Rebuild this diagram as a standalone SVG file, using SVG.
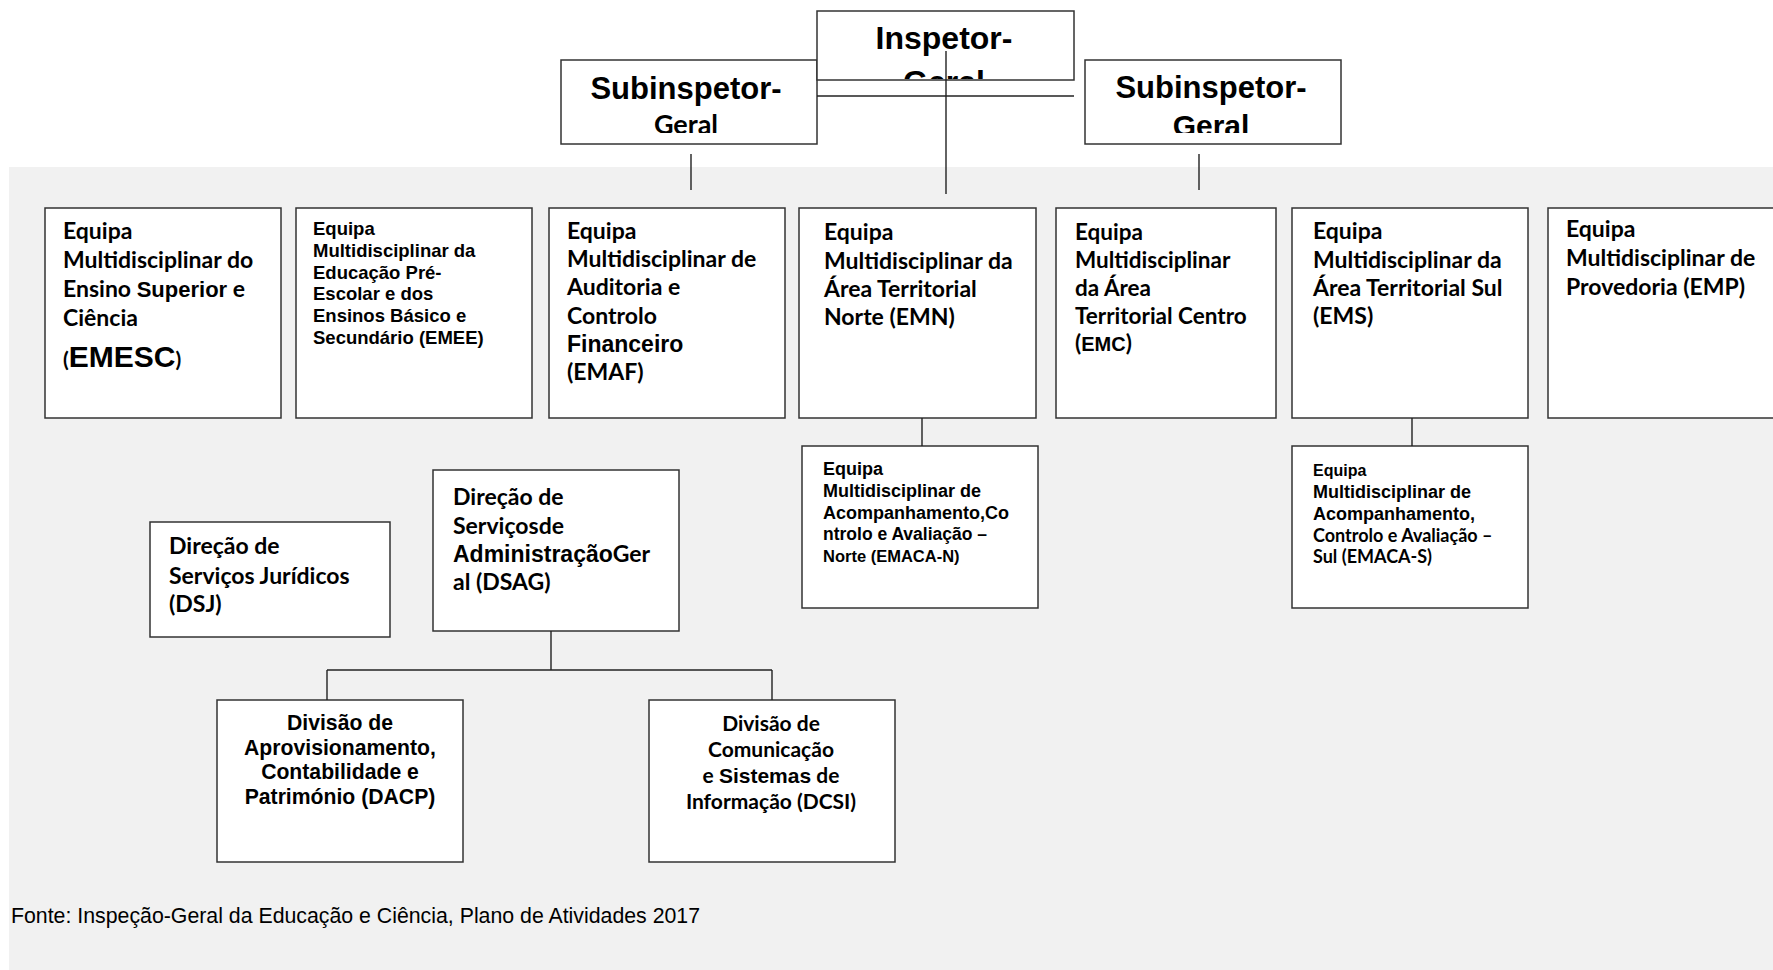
<svg xmlns="http://www.w3.org/2000/svg" width="1773" height="970" viewBox="0 0 1773 970">
<style>
.box{fill:#fff;stroke:#333;stroke-width:1.5}
.a{font-family:"Liberation Sans",Arial,sans-serif;font-weight:bold;fill:#000}
.c{font-family:Lato,"Open Sans",sans-serif;font-weight:bold;fill:#000}
.conn line{stroke:#222;stroke-width:1.4}
.f{font-family:"Liberation Sans",Arial,sans-serif;fill:#000}
</style>
<defs>
<clipPath id="clipIG"><rect x="817" y="11" width="257" height="68"/></clipPath>
<clipPath id="clipS1"><rect x="561" y="60" width="256" height="73"/></clipPath>
<clipPath id="clipS2"><rect x="1085" y="60" width="256" height="73"/></clipPath>
</defs>
<rect width="1773" height="970" fill="#fff"/>
<rect x="9" y="167" width="1764" height="803" fill="#f1f1f1"/>

<g id="sub-left">
<rect class="box" x="561" y="60" width="256" height="84"/>
<g clip-path="url(#clipS1)">
<text class="a" x="686" y="99" font-size="31" text-anchor="middle">Subinspetor-</text>
<text class="c" x="686" y="134" font-size="27" text-anchor="middle">Geral</text>
</g>
</g>
<g id="sub-right">
<rect class="box" x="1085" y="60" width="256" height="84"/>
<g clip-path="url(#clipS2)">
<text class="a" x="1211" y="98" font-size="31" text-anchor="middle">Subinspetor-</text>
<text class="a" x="1211" y="136" font-size="30" text-anchor="middle">Geral</text>
</g>
</g>
<g id="inspetor">
<rect class="box" x="817" y="11" width="257" height="69"/>
<g clip-path="url(#clipIG)">
<text class="a" x="944" y="49" font-size="32" text-anchor="middle">Inspetor-</text>
<text class="a" x="944" y="93" font-size="32" text-anchor="middle">Geral</text>
</g>
</g>

<g id="emesc">
<rect class="box" x="45" y="208" width="236" height="210"/>
<text class="c" font-size="23"><tspan x="63" y="239">Equipa</tspan><tspan x="63" y="268">Multidisciplinar do</tspan><tspan x="63" y="297">Ensino <tspan class="a" font-size="22">Superior</tspan> e</tspan><tspan x="63" y="326">Ciência</tspan><tspan x="63" y="367" font-size="21">(<tspan class="a" font-size="30">EMESC</tspan>)</tspan></text>
</g>
<g id="emee">
<rect class="box" x="296" y="208" width="236" height="210"/>
<text class="a" font-size="18.5"><tspan x="313" y="235">Equipa</tspan><tspan x="313" y="257">Multidisciplinar da</tspan><tspan x="313" y="279">Educação Pré-</tspan><tspan x="313" y="300">Escolar e dos</tspan><tspan x="313" y="322">Ensinos Básico e</tspan><tspan x="313" y="344">Secundário (EMEE)</tspan></text>
</g>
<g id="emaf">
<rect class="box" x="549" y="208" width="236" height="210"/>
<text class="c" font-size="23"><tspan x="567" y="239">Equipa</tspan><tspan x="567" y="267">Multidisciplinar de</tspan><tspan x="567" y="295">Auditoria e</tspan><tspan x="567" y="324">Controlo</tspan><tspan x="567" y="352" class="a">Financeiro</tspan><tspan x="567" y="380">(EMAF)</tspan></text>
</g>
<g id="emn">
<rect class="box" x="799" y="208" width="237" height="210"/>
<text class="c" font-size="23"><tspan x="824" y="240">Equipa</tspan><tspan x="824" y="269">Multidisciplinar da</tspan><tspan x="824" y="297">Área Territorial</tspan><tspan x="824" y="325">Norte (EMN)</tspan></text>
</g>
<g id="emc">
<rect class="box" x="1056" y="208" width="220" height="210"/>
<text class="c" font-size="22.5"><tspan x="1075" y="240">Equipa</tspan><tspan x="1075" y="268">Multidisciplinar</tspan><tspan x="1075" y="296">da Área</tspan><tspan x="1075" y="324">Territorial Centro</tspan><tspan x="1075" y="351">(<tspan class="a" font-size="20">EMC</tspan>)</tspan></text>
</g>
<g id="ems">
<rect class="box" x="1292" y="208" width="236" height="210"/>
<text class="c" font-size="23"><tspan x="1313" y="239">Equipa</tspan><tspan x="1313" y="268">Multidisciplinar da</tspan><tspan x="1313" y="296">Área Territorial Sul</tspan><tspan x="1313" y="324">(EMS)</tspan></text>
</g>
<g id="emp">
<rect class="box" x="1548" y="208" width="240" height="210"/>
<text class="c" font-size="23"><tspan x="1566" y="237">Equipa</tspan><tspan x="1566" y="266">Multidisciplinar de</tspan><tspan x="1566" y="295">Provedoria (EMP)</tspan></text>
</g>

<g id="emaca-n">
<rect class="box" x="802" y="446" width="236" height="162"/>
<text class="a" font-size="18"><tspan x="823" y="475">Equipa</tspan><tspan x="823" y="497">Multidisciplinar de</tspan><tspan x="823" y="519">Acompanhamento,Co</tspan><tspan x="823" y="540" font-size="17.5">ntrolo e Avaliação –</tspan><tspan x="823" y="562" font-size="16.5">Norte (EMACA-N)</tspan></text>
</g>
<g id="emaca-s">
<rect class="box" x="1292" y="446" width="236" height="162"/>
<text class="a" font-size="18"><tspan x="1313" y="476" font-size="16">Equipa</tspan><tspan x="1313" y="498">Multidisciplinar de</tspan><tspan x="1313" y="520">Acompanhamento,</tspan><tspan x="1313" y="542" class="c">Controlo e Avaliação –</tspan><tspan x="1313" y="563" class="c">Sul (EMACA-S)</tspan></text>
</g>

<g id="dsj">
<rect class="box" x="150" y="522" width="240" height="115"/>
<text class="c" font-size="23"><tspan x="169" y="554">Direção de</tspan><tspan x="169" y="584">Serviços Jurídicos</tspan><tspan x="169" y="612">(DSJ)</tspan></text>
</g>
<g id="dsag">
<rect class="box" x="433" y="470" width="246" height="161"/>
<text class="c" font-size="23"><tspan x="453" y="505">Direção de</tspan><tspan x="453" y="534">Serviçosde</tspan><tspan x="453" y="562"><tspan class="a">Administração</tspan>Ger</tspan><tspan x="453" y="590">al (DSAG)</tspan></text>
</g>
<g id="dacp">
<rect class="box" x="217" y="700" width="246" height="162"/>
<text class="a" font-size="21.2" text-anchor="middle"><tspan x="340" y="730">Divisão de</tspan><tspan x="340" y="755">Aprovisionamento,</tspan><tspan x="340" y="779">Contabilidade e</tspan><tspan x="340" y="804">Património (DACP)</tspan></text>
</g>
<g id="dcsi">
<rect class="box" x="649" y="700" width="246" height="162"/>
<text class="c" font-size="21" text-anchor="middle"><tspan x="771" y="731">Divisão de</tspan><tspan x="771" y="757">Comunicação</tspan><tspan x="771" y="783">e <tspan class="a">Sistemas</tspan> de</tspan><tspan x="771" y="809">Informação (DCSI)</tspan></text>
</g>

<g id="connectors" class="conn">
<line x1="817" y1="96" x2="1074" y2="96"/>
<line x1="946" y1="51" x2="946" y2="194"/>
<line x1="691" y1="154" x2="691" y2="190"/>
<line x1="1199" y1="154" x2="1199" y2="190"/>
<line x1="922" y1="418" x2="922" y2="446"/>
<line x1="1412" y1="418" x2="1412" y2="446"/>
<line x1="551" y1="631" x2="551" y2="670"/>
<line x1="327" y1="670" x2="772" y2="670"/>
<line x1="327" y1="670" x2="327" y2="700"/>
<line x1="772" y1="670" x2="772" y2="700"/>
</g>

<text class="f" x="11" y="923" font-size="21.3">Fonte: Inspeção-Geral da Educação e Ciência, Plano de Atividades 2017</text>
</svg>
